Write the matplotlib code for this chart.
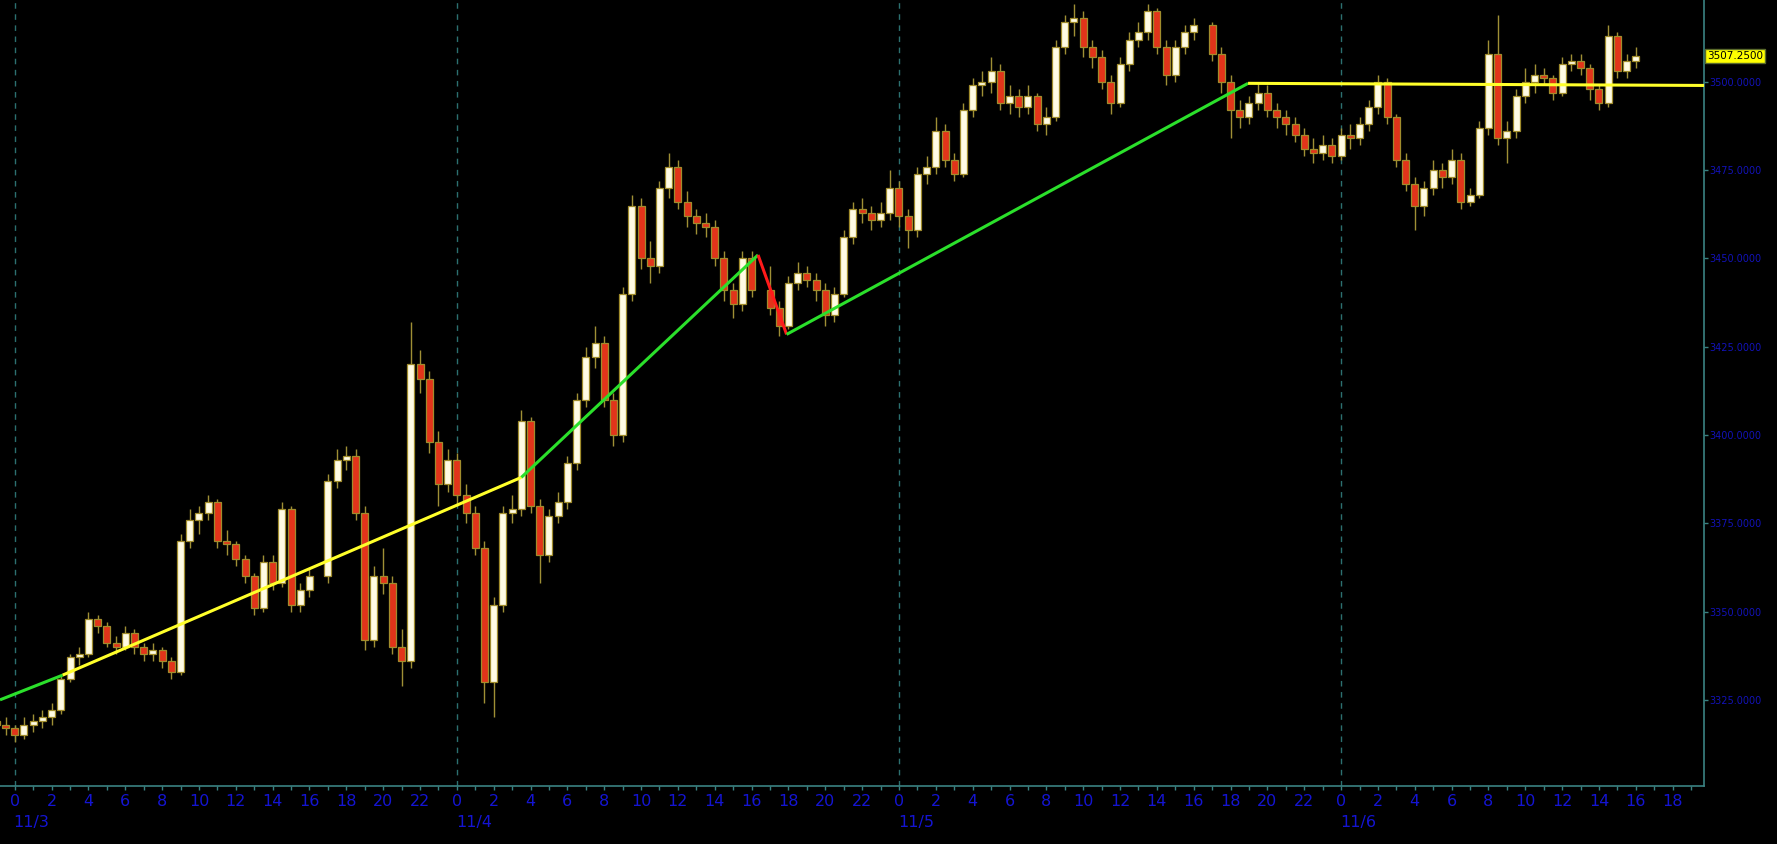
import numpy as np
import matplotlib
matplotlib.use("Agg")
import matplotlib.pyplot as plt
from matplotlib.ticker import FixedLocator, FuncFormatter

# ---------------- data (30-min bars, time in hours from 11/3 00:00) ----------------
segments = [(-1.0, 16.0), (17.0, 40.0), (41.0, 64.0), (65.0, 88.0)]
first_open = 3319.0

close_1 = [3318, 3317, 3315, 3318, 3319, 3320, 3322, 3331, 3337, 3338,
           3348, 3346, 3341, 3340, 3344, 3340, 3338, 3339, 3336, 3333,
           3370, 3376, 3378, 3381, 3370, 3369, 3365, 3360, 3351, 3364,
           3358, 3379, 3352, 3356, 3360]
high_1 = [3321, 3320, 3318, 3320, 3321, 3322, 3324, 3332, 3338, 3340,
          3350, 3349, 3347, 3343, 3346, 3345, 3341, 3341, 3340, 3337,
          3372, 3379, 3380, 3383, 3382, 3373, 3370, 3366, 3361, 3366,
          3366, 3381, 3380, 3358, 3362]
low_1 = [3316, 3315, 3313, 3314, 3316, 3317, 3318, 3321, 3330, 3335,
         3337, 3344, 3340, 3338, 3339, 3338, 3336, 3336, 3334, 3331,
         3332, 3368, 3372, 3376, 3368, 3366, 3363, 3358, 3349, 3350,
         3356, 3357, 3350, 3350, 3354]

close_2 = [3387, 3393, 3394, 3378, 3342, 3360, 3358, 3340, 3336, 3420,
           3416, 3398, 3386, 3393, 3383, 3378, 3368, 3330, 3352, 3378,
           3379, 3404, 3380, 3366, 3377, 3381, 3392, 3410, 3422, 3426,
           3410, 3400, 3440, 3465, 3450, 3448, 3470, 3476, 3466, 3462,
           3460, 3459, 3450, 3441, 3437, 3450, 3441]
high_2 = [3389, 3396, 3397, 3396, 3380, 3363, 3368, 3360, 3345, 3432,
          3424, 3418, 3401, 3396, 3395, 3386, 3380, 3370, 3354, 3380,
          3383, 3407, 3405, 3382, 3379, 3384, 3394, 3412, 3425, 3431,
          3428, 3412, 3442, 3468, 3467, 3455, 3472, 3480, 3478, 3469,
          3464, 3463, 3461, 3452, 3443, 3452, 3452]
low_2 = [3358, 3385, 3390, 3376, 3339, 3340, 3355, 3338, 3329, 3334,
         3412, 3395, 3380, 3384, 3380, 3375, 3366, 3324, 3320, 3350,
         3375, 3377, 3378, 3358, 3364, 3375, 3379, 3390, 3408, 3419,
         3408, 3397, 3398, 3438, 3447, 3443, 3446, 3467, 3464, 3459,
         3457, 3456, 3448, 3438, 3433, 3435, 3439]

close_3 = [3436, 3431, 3443, 3446, 3444, 3441, 3434, 3440, 3456, 3464,
           3463, 3461, 3463, 3470, 3462, 3458, 3474, 3476, 3486, 3478,
           3474, 3492, 3499, 3500, 3503, 3494, 3496, 3493, 3496, 3488,
           3490, 3510, 3517, 3518, 3510, 3507, 3500, 3494, 3505, 3512,
           3514, 3520, 3510, 3502, 3510, 3514, 3516]
high_3 = [3448, 3438, 3445, 3449, 3448, 3446, 3443, 3442, 3458, 3466,
          3467, 3465, 3466, 3475, 3472, 3464, 3476, 3479, 3490, 3488,
          3480, 3494, 3501, 3503, 3507, 3505, 3499, 3498, 3499, 3497,
          3493, 3512, 3519, 3522, 3520, 3512, 3509, 3502, 3507, 3514,
          3517, 3522, 3521, 3512, 3512, 3516, 3518]
low_3 = [3434, 3428, 3430, 3441, 3442, 3438, 3431, 3432, 3439, 3454,
         3460, 3458, 3459, 3461, 3459, 3453, 3456, 3471, 3474, 3476,
         3472, 3473, 3490, 3496, 3497, 3492, 3491, 3490, 3491, 3486,
         3485, 3489, 3508, 3513, 3507, 3504, 3498, 3491, 3493, 3503,
         3510, 3512, 3508, 3499, 3500, 3508, 3512]

close_4 = [3508, 3500, 3492, 3490, 3494, 3497, 3492, 3490, 3488, 3485,
           3481, 3480, 3482, 3479, 3485, 3484, 3488, 3493, 3500, 3490,
           3478, 3471, 3465, 3470, 3475, 3473, 3478, 3466, 3468, 3487,
           3508, 3484, 3486, 3496, 3500, 3502, 3501, 3497, 3505, 3506,
           3504, 3498, 3494, 3513, 3503, 3506, 3507.25]
high_4 = [3517, 3510, 3502, 3495, 3496, 3500, 3499, 3494, 3492, 3490,
          3487, 3484, 3485, 3484, 3487, 3488, 3490, 3495, 3502, 3501,
          3491, 3480, 3473, 3472, 3478, 3477, 3481, 3480, 3470, 3489,
          3512, 3519, 3489, 3498, 3504, 3505, 3504, 3502, 3507, 3508,
          3508, 3505, 3499, 3516, 3514, 3508, 3510]
low_4 = [3506, 3497, 3484, 3487, 3488, 3492, 3490, 3487, 3485, 3483,
         3479, 3477, 3478, 3477, 3478, 3481, 3482, 3486, 3491, 3488,
         3476, 3469, 3458, 3462, 3468, 3470, 3471, 3464, 3465, 3467,
         3485, 3482, 3477, 3484, 3494, 3497, 3499, 3495, 3496, 3503,
         3502, 3495, 3492, 3493, 3501, 3501, 3504]

last_price = 3507.25

# trend lines: (t0, p0, t1, p1, colour key)
trend_lines = [
    (-0.8, 3325.0, 2.6, 3332.0, "green"),
    (2.6, 3332.0, 27.5, 3388.0, "yellow"),
    (27.5, 3388.0, 40.35, 3451.0, "green"),
    (40.35, 3451.0, 41.9, 3428.5, "red"),
    (41.9, 3428.5, 66.95, 3499.6, "green"),
    (66.95, 3499.6, 91.7, 3499.0, "yellow"),
]

day_labels = ["11/3", "11/4", "11/5", "11/6"]
day_starts = [0, 24, 48, 72]
y_ticks = [3325, 3350, 3375, 3400, 3425, 3450, 3475, 3500]

# ---------------- assemble ----------------
closes = np.array(close_1 + close_2 + close_3 + close_4, dtype=float)
highs = np.array(high_1 + high_2 + high_3 + high_4, dtype=float)
lows = np.array(low_1 + low_2 + low_3 + low_4, dtype=float)
times = np.concatenate([np.arange(a, b + 0.25, 0.5) for a, b in segments])
opens = np.concatenate([[first_open], closes[:-1]])

# ---------------- styling ----------------
BG = "#000000"
AXIS = "#3a8282"
GRIDC = "#2c7070"
LBL = "#1414d2"
YLBL = "#1212b8"
UP_FACE = "#fffbe3"
DN_FACE = "#e2341a"
EDGE = "#a08c2c"
WICK = "#9f8f35"
LINE_COL = {"green": "#2be02b", "yellow": "#ffff2a", "red": "#ff1a1a"}

W, H = 1777, 844
fig = plt.figure(figsize=(W / 100, H / 100), dpi=100, facecolor=BG)
ax = fig.add_axes([0, 58 / H, 1704 / W, 786 / H], facecolor=BG)

ax.set_xlim(-0.8, 91.7)
ax.set_ylim(3300.6, 3523.2)

# day separators
for d in day_starts:
    ax.axvline(d, color=GRIDC, lw=1.0, ls=(0, (4, 4)), zorder=1)

# candles
up = closes >= opens
ax.vlines(times, lows, highs, colors=WICK, lw=1.0, zorder=2)
bottoms = np.minimum(opens, closes)
heights = np.maximum(np.abs(closes - opens), 0.6)
ax.bar(times[up], heights[up], bottom=bottoms[up], width=0.38,
       color=UP_FACE, edgecolor=EDGE, linewidth=0.9, zorder=3)
ax.bar(times[~up], heights[~up], bottom=bottoms[~up], width=0.38,
       color=DN_FACE, edgecolor=EDGE, linewidth=0.9, zorder=3)

# trend lines
for t0, p0, t1, p1, key in trend_lines:
    ax.plot([t0, t1], [p0, p1], color=LINE_COL[key], lw=2.2,
            solid_capstyle="butt", zorder=4)

# spines
for s in ["top", "left"]:
    ax.spines[s].set_visible(False)
for s in ["bottom", "right"]:
    ax.spines[s].set_color(AXIS)
    ax.spines[s].set_linewidth(1.2)

# x axis
ax.xaxis.set_major_locator(FixedLocator(np.arange(0, 91, 2)))
ax.xaxis.set_minor_locator(FixedLocator(np.arange(0, 92, 1)))
ax.xaxis.set_major_formatter(FuncFormatter(lambda v, p: f"{int(round(v)) % 24}"))
ax.tick_params(axis="x", which="both", colors=AXIS, labelcolor=LBL,
               direction="out", length=3, width=1, pad=3, labelsize=11.5)

# y axis on the right
ax.yaxis.tick_right()
ax.yaxis.set_major_locator(FixedLocator(y_ticks))
ax.yaxis.set_major_formatter(FuncFormatter(lambda v, p: f"{v:.4f}"))
ax.tick_params(axis="y", which="both", colors=AXIS, labelcolor=YLBL,
               direction="out", length=3, width=1, pad=1, labelsize=7)
ax.tick_params(axis="y", which="minor", length=0)

# date labels
for d, lab in zip(day_starts, day_labels):
    ax.annotate(lab, xy=(d, 0), xycoords=("data", "axes fraction"),
                xytext=(-1, -36), textcoords="offset pixels",
                ha="left", va="center", color=LBL, fontsize=11.5,
                annotation_clip=False)

# last price tag
ax.annotate(f"{last_price:.4f}", xy=(1.0, last_price),
            xycoords=("axes fraction", "data"),
            xytext=(3, 0), textcoords="offset pixels",
            ha="left", va="center", color="#000000", fontsize=7.5,
            bbox=dict(boxstyle="square,pad=0.18", facecolor="#ffff00",
                      edgecolor="#5a6a2a", linewidth=1),
            annotation_clip=False, zorder=6)

fig.savefig("out.png", dpi=100, facecolor=BG)
